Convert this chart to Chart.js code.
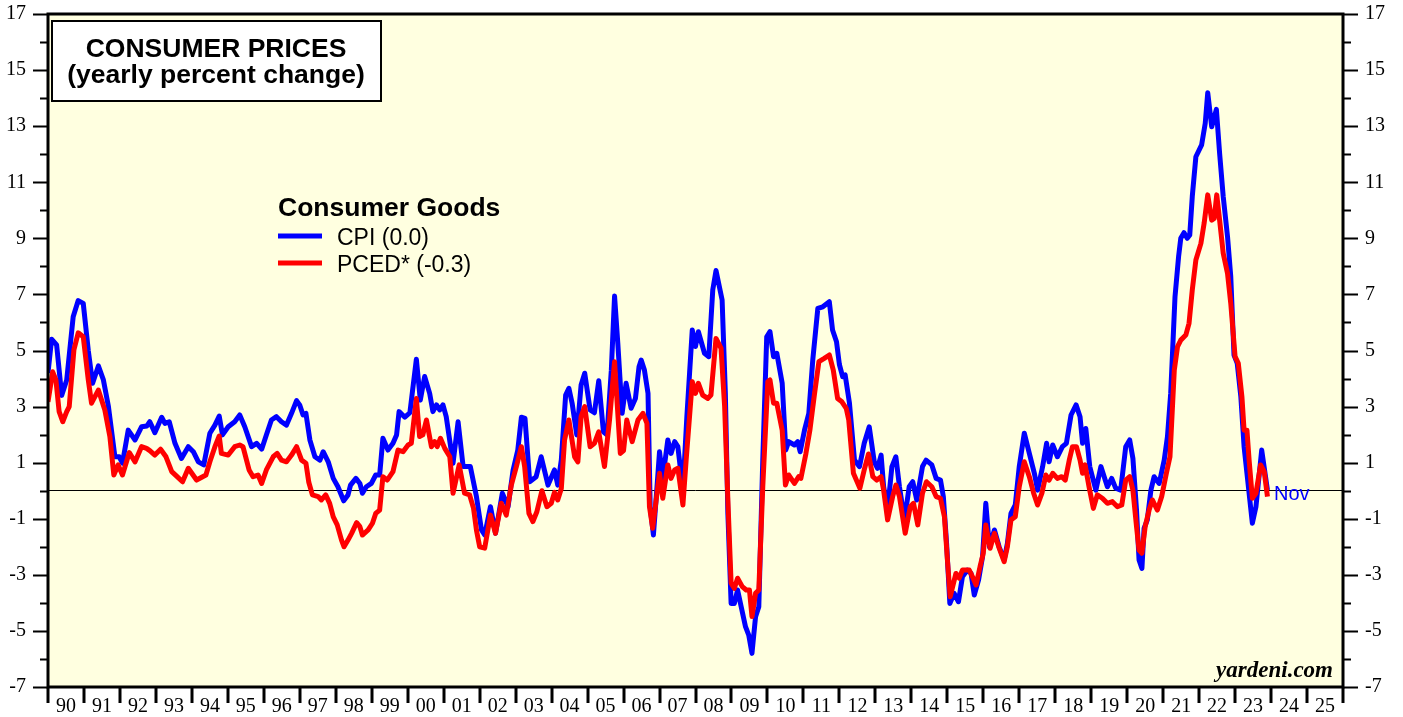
<!DOCTYPE html>
<html>
<head>
<meta charset="utf-8">
<title>Consumer Prices</title>
<script src="https://cdn.jsdelivr.net/npm/chart.js@4.4.1/dist/chart.umd.min.js"></script>
<style>
    body { margin: 0; background: #ffffff; }
    #chartBox { width: 1403px; height: 717px; }
</style>
</head>
<body>
<div id="chartBox"><canvas id="pricesChart" width="1403" height="717"></canvas></div>
<script>
// CPI consumer goods, yearly % change (decimal year, value)
const cpiYears = [
    1990.00, 1990.10, 1990.24, 1990.38, 1990.52, 1990.70, 1990.84, 1990.98, 1991.12, 1991.24,
    1991.40, 1991.54, 1991.68, 1991.86, 1991.98, 1992.07, 1992.23, 1992.42, 1992.60, 1992.75,
    1992.83, 1992.97, 1993.16, 1993.25, 1993.37, 1993.53, 1993.71, 1993.90, 1994.04, 1994.18,
    1994.33, 1994.50, 1994.64, 1994.76, 1994.85, 1995.01, 1995.19, 1995.33, 1995.47, 1995.66,
    1995.80, 1995.94, 1996.07, 1996.21, 1996.35, 1996.49, 1996.63, 1996.77, 1996.91, 1997.00,
    1997.09, 1997.17, 1997.28, 1997.42, 1997.56, 1997.65, 1997.79, 1997.93, 1998.06, 1998.22,
    1998.34, 1998.41, 1998.56, 1998.67, 1998.74, 1998.85, 1998.99, 1999.11, 1999.22, 1999.31,
    1999.45, 1999.59, 1999.69, 1999.76, 1999.92, 2000.06, 2000.24, 2000.35, 2000.47, 2000.61,
    2000.70, 2000.80, 2000.89, 2000.98, 2001.07, 2001.26, 2001.40, 2001.54, 2001.74, 2001.91,
    2002.05, 2002.14, 2002.30, 2002.44, 2002.63, 2002.79, 2002.93, 2003.06, 2003.16, 2003.26,
    2003.39, 2003.57, 2003.71, 2003.90, 2004.08, 2004.17, 2004.27, 2004.39, 2004.48, 2004.57,
    2004.70, 2004.82, 2004.92, 2005.07, 2005.19, 2005.31, 2005.44, 2005.54, 2005.66, 2005.75,
    2005.84, 2005.96, 2006.07, 2006.21, 2006.33, 2006.43, 2006.49, 2006.58, 2006.68, 2006.74,
    2006.83, 2006.93, 2007.00, 2007.09, 2007.23, 2007.32, 2007.42, 2007.51, 2007.65, 2007.76,
    2007.91, 2008.00, 2008.08, 2008.25, 2008.37, 2008.48, 2008.57, 2008.74, 2008.83, 2008.90,
    2008.99, 2009.08, 2009.17, 2009.27, 2009.39, 2009.48, 2009.57, 2009.67, 2009.76, 2009.87,
    2009.98, 2010.07, 2010.17, 2010.26, 2010.41, 2010.51, 2010.59, 2010.75, 2010.84, 2010.91,
    2011.03, 2011.15, 2011.26, 2011.40, 2011.54, 2011.72, 2011.81, 2011.92, 2012.00, 2012.09,
    2012.16, 2012.28, 2012.42, 2012.56, 2012.69, 2012.83, 2012.97, 2013.06, 2013.16, 2013.23,
    2013.34, 2013.46, 2013.57, 2013.67, 2013.81, 2013.94, 2014.04, 2014.15, 2014.31, 2014.41,
    2014.57, 2014.69, 2014.81, 2014.89, 2014.98, 2015.07, 2015.19, 2015.31, 2015.42, 2015.56,
    2015.66, 2015.75, 2015.87, 2015.98, 2016.07, 2016.17, 2016.31, 2016.44, 2016.58, 2016.67,
    2016.77, 2016.89, 2017.00, 2017.14, 2017.28, 2017.42, 2017.51, 2017.65, 2017.76, 2017.83,
    2017.93, 2018.06, 2018.20, 2018.31, 2018.44, 2018.58, 2018.69, 2018.76, 2018.85, 2018.96,
    2019.13, 2019.27, 2019.45, 2019.57, 2019.68, 2019.82, 2019.96, 2020.07, 2020.16, 2020.26,
    2020.33, 2020.41, 2020.47, 2020.56, 2020.66, 2020.75, 2020.89, 2021.03, 2021.12, 2021.21,
    2021.26, 2021.33, 2021.43, 2021.49, 2021.58, 2021.67, 2021.74, 2021.81, 2021.91, 2022.07,
    2022.17, 2022.24, 2022.35, 2022.48, 2022.57, 2022.67, 2022.79, 2022.88, 2022.97, 2023.06,
    2023.16, 2023.25, 2023.48, 2023.58, 2023.74, 2023.90
];
const cpiValues = [
    4.20, 5.40, 5.20, 3.40, 3.95, 6.20, 6.78, 6.68, 5.00, 3.83,
    4.45, 3.95, 3.00, 1.21, 1.21, 0.98, 2.16, 1.81, 2.28, 2.31,
    2.46, 2.07, 2.62, 2.40, 2.46, 1.69, 1.15, 1.57, 1.39, 1.03,
    0.92, 2.05, 2.34, 2.66, 1.99, 2.28, 2.46, 2.70, 2.28, 1.57,
    1.69, 1.48, 1.99, 2.52, 2.64, 2.46, 2.34, 2.76, 3.21, 3.05,
    2.70, 2.76, 1.81, 1.21, 1.09, 1.39, 1.03, 0.44, 0.14, -0.36,
    -0.15, 0.20, 0.44, 0.26, -0.09, 0.14, 0.26, 0.56, 0.56, 1.87,
    1.45, 1.69, 1.99, 2.82, 2.62, 2.78, 4.69, 3.23, 4.07, 3.47,
    2.82, 3.06, 2.88, 3.06, 2.64, 0.98, 2.46, 0.86, 0.86, -0.21,
    -1.40, -1.58, -0.57, -1.52, -0.09, -0.57, 0.74, 1.45, 2.62, 2.58,
    0.32, 0.50, 1.21, 0.20, 0.74, 0.20, 1.10, 3.41, 3.65, 3.12,
    1.99, 3.77, 4.19, 2.88, 2.78, 3.92, 2.10, 1.99, 4.30, 6.94,
    5.26, 2.76, 3.83, 2.94, 3.29, 4.42, 4.66, 4.30, 3.47, -0.57,
    -1.58, 0.14, 1.39, 0.44, 1.81, 1.33, 1.75, 1.57, 0.02, 2.64,
    5.73, 5.14, 5.67, 4.90, 4.78, 7.16, 7.85, 6.80, 3.47, -0.81,
    -4.02, -4.02, -3.54, -4.14, -4.85, -5.15, -5.80, -4.49, -4.14, 1.09,
    5.49, 5.67, 4.78, 4.90, 3.83, 1.45, 1.75, 1.63, 1.75, 1.39,
    2.16, 2.76, 4.66, 6.50, 6.56, 6.74, 5.73, 5.31, 4.50, 4.07,
    4.13, 3.12, 1.09, 0.86, 1.69, 2.28, 1.03, 0.80, 1.27, 0.14,
    -0.69, 0.86, 1.21, 0.14, -1.04, 0.14, 0.32, -0.33, 0.86, 1.09,
    0.92, 0.44, 0.38, -0.21, -1.88, -4.02, -3.66, -3.96, -3.07, -2.83,
    -2.95, -3.72, -3.18, -2.35, -0.45, -2.00, -1.40, -2.00, -2.47, -1.88,
    -0.81, -0.51, 0.86, 2.05, 1.33, 0.62, 0.02, 0.86, 1.69, 1.03,
    1.63, 1.21, 1.57, 1.69, 2.70, 3.06, 2.64, 1.69, 2.22, 0.86,
    0.02, 0.86, 0.14, 0.44, 0.09, 0.02, 1.57, 1.81, 1.15, -0.69,
    -2.47, -2.77, -1.34, -1.04, 0.02, 0.50, 0.26, 1.09, 1.93, 3.47,
    4.90, 6.92, 8.35, 9.00, 9.20, 9.00, 9.12, 10.49, 11.91, 12.33,
    13.10, 14.19, 12.98, 13.60, 12.03, 10.49, 9.06, 7.63, 4.84, 4.54,
    3.35, 1.57, -1.16, -0.57, 1.45, 0.02
];

// PCED consumer goods, yearly % change
const pcedYears = [
    1990.00, 1990.13, 1990.22, 1990.31, 1990.41, 1990.52, 1990.59, 1990.72, 1990.84, 1990.98,
    1991.12, 1991.21, 1991.40, 1991.58, 1991.72, 1991.83, 1991.95, 1992.07, 1992.26, 1992.42,
    1992.60, 1992.74, 1992.83, 1992.97, 1993.13, 1993.28, 1993.44, 1993.59, 1993.74, 1993.90,
    1994.13, 1994.30, 1994.39, 1994.50, 1994.64, 1994.76, 1994.82, 1995.01, 1995.19, 1995.33,
    1995.42, 1995.59, 1995.70, 1995.84, 1995.94, 1996.07, 1996.26, 1996.37, 1996.49, 1996.63,
    1996.77, 1996.91, 1997.05, 1997.17, 1997.25, 1997.35, 1997.51, 1997.60, 1997.72, 1997.83,
    1997.93, 1998.04, 1998.16, 1998.23, 1998.34, 1998.44, 1998.58, 1998.67, 1998.74, 1998.90,
    1999.02, 1999.11, 1999.22, 1999.31, 1999.43, 1999.59, 1999.73, 1999.87, 2000.01, 2000.10,
    2000.24, 2000.33, 2000.42, 2000.52, 2000.66, 2000.75, 2000.82, 2000.91, 2001.03, 2001.17,
    2001.26, 2001.43, 2001.58, 2001.72, 2001.83, 2001.91, 2002.00, 2002.14, 2002.30, 2002.44,
    2002.60, 2002.74, 2002.88, 2003.02, 2003.16, 2003.25, 2003.37, 2003.48, 2003.59, 2003.73,
    2003.87, 2003.99, 2004.08, 2004.17, 2004.27, 2004.36, 2004.48, 2004.64, 2004.73, 2004.82,
    2004.92, 2005.07, 2005.19, 2005.31, 2005.47, 2005.61, 2005.75, 2005.91, 2006.00, 2006.09,
    2006.24, 2006.40, 2006.54, 2006.65, 2006.72, 2006.81, 2006.93, 2007.00, 2007.09, 2007.23,
    2007.32, 2007.42, 2007.51, 2007.65, 2007.74, 2007.91, 2008.00, 2008.08, 2008.20, 2008.34,
    2008.43, 2008.57, 2008.71, 2008.81, 2008.90, 2008.99, 2009.08, 2009.17, 2009.30, 2009.41,
    2009.50, 2009.57, 2009.67, 2009.76, 2009.87, 2010.01, 2010.07, 2010.17, 2010.26, 2010.41,
    2010.50, 2010.59, 2010.75, 2010.87, 2010.93, 2011.07, 2011.18, 2011.31, 2011.43, 2011.58,
    2011.72, 2011.83, 2011.95, 2012.07, 2012.19, 2012.26, 2012.39, 2012.57, 2012.69, 2012.81,
    2012.93, 2013.04, 2013.16, 2013.23, 2013.34, 2013.48, 2013.57, 2013.67, 2013.83, 2013.97,
    2014.06, 2014.18, 2014.31, 2014.42, 2014.57, 2014.69, 2014.81, 2014.92, 2015.01, 2015.08,
    2015.24, 2015.33, 2015.42, 2015.61, 2015.70, 2015.80, 2015.91, 2016.00, 2016.07, 2016.19,
    2016.31, 2016.43, 2016.58, 2016.67, 2016.77, 2016.89, 2017.00, 2017.14, 2017.28, 2017.40,
    2017.51, 2017.63, 2017.74, 2017.83, 2017.93, 2018.06, 2018.18, 2018.28, 2018.39, 2018.48,
    2018.59, 2018.69, 2018.76, 2018.83, 2018.94, 2019.06, 2019.17, 2019.31, 2019.45, 2019.59,
    2019.73, 2019.85, 2019.96, 2020.07, 2020.16, 2020.26, 2020.33, 2020.41, 2020.50, 2020.61,
    2020.70, 2020.84, 2020.96, 2021.09, 2021.19, 2021.31, 2021.40, 2021.49, 2021.63, 2021.72,
    2021.81, 2021.91, 2022.05, 2022.14, 2022.24, 2022.35, 2022.42, 2022.49, 2022.57, 2022.67,
    2022.79, 2022.88, 2023.00, 2023.09, 2023.19, 2023.25, 2023.33, 2023.39, 2023.48, 2023.58,
    2023.71, 2023.81, 2023.90
];
const pcedValues = [
    3.17, 4.24, 3.95, 2.82, 2.46, 2.82, 3.00, 5.02, 5.63, 5.49,
    3.95, 3.12, 3.59, 2.88, 1.93, 0.56, 0.92, 0.56, 1.36, 1.03,
    1.57, 1.51, 1.43, 1.27, 1.48, 1.21, 0.68, 0.50, 0.32, 0.80,
    0.38, 0.50, 0.56, 1.03, 1.57, 1.95, 1.33, 1.27, 1.57, 1.63,
    1.57, 0.74, 0.50, 0.56, 0.26, 0.74, 1.21, 1.33, 1.09, 1.03,
    1.27, 1.57, 1.09, 0.98, 0.30, -0.15, -0.21, -0.33, -0.15, -0.45,
    -0.93, -1.22, -1.76, -2.00, -1.76, -1.52, -1.14, -1.28, -1.58, -1.40,
    -1.16, -0.81, -0.69, 0.50, 0.38, 0.68, 1.45, 1.39, 1.63, 1.69,
    3.29, 1.93, 1.99, 2.52, 1.57, 1.75, 1.57, 1.87, 1.51, 1.21,
    -0.09, 0.92, -0.09, -0.15, -0.63, -1.40, -2.00, -2.05, -0.87, -1.52,
    -0.45, -0.87, 0.20, 0.86, 1.57, 0.86, -0.81, -1.10, -0.75, 0.00,
    -0.57, -0.45, -0.06, -0.33, 0.08, 1.81, 2.52, 1.21, 1.03, 2.64,
    3.00, 1.57, 1.69, 2.10, 0.86, 2.52, 4.60, 1.33, 1.43, 2.52,
    1.75, 2.52, 2.76, 2.40, -0.57, -1.34, -0.09, 0.62, -0.27, 0.92,
    0.44, 0.74, 0.80, -0.51, 1.09, 3.89, 3.47, 3.83, 3.41, 3.29,
    3.41, 5.43, 5.08, 3.00, -0.33, -3.30, -3.48, -3.12, -3.42, -3.54,
    -3.54, -4.49, -3.66, -3.54, 0.14, 3.89, 3.95, 3.12, 3.12, 2.16,
    0.20, 0.56, 0.26, 0.50, 0.44, 1.33, 2.16, 3.47, 4.60, 4.72,
    4.84, 4.30, 3.29, 3.17, 2.94, 2.52, 0.62, 0.09, 0.74, 1.31,
    0.50, 0.38, 0.50, 0.02, -1.04, -0.21, 0.20, -0.21, -1.52, -0.57,
    -0.45, -1.22, -0.09, 0.32, 0.14, -0.21, -0.27, -0.93, -2.59, -3.78,
    -2.95, -3.12, -2.83, -2.83, -3.07, -3.36, -2.71, -2.23, -1.22, -2.05,
    -1.52, -2.00, -2.53, -2.00, -1.04, -0.93, 0.14, 1.03, 0.50, -0.09,
    -0.51, -0.09, 0.56, 0.38, 0.62, 0.44, 0.50, 0.38, 1.09, 1.57,
    1.57, 1.09, 0.62, 0.92, 0.14, -0.63, -0.15, -0.27, -0.45, -0.39,
    -0.57, -0.51, 0.38, 0.50, 0.02, -1.28, -2.12, -2.23, -1.28, -0.69,
    -0.33, -0.69, -0.21, 0.62, 1.21, 4.30, 5.14, 5.37, 5.55, 5.97,
    7.16, 8.23, 8.82, 9.54, 10.55, 9.65, 9.71, 10.55, 9.65, 8.47,
    7.75, 6.68, 4.78, 4.54, 3.35, 2.16, 2.16, 1.09, -0.27, -0.09,
    0.92, 0.68, -0.21
];

const yearLabels = ['90', '91', '92', '93', '94', '95', '96', '97', '98', '99', '00', '01',
    '02', '03', '04', '05', '06', '07', '08', '09', '10', '11', '12', '13', '14', '15',
    '16', '17', '18', '19', '20', '21', '22', '23', '24', '25'];
const firstYear = 1990;
const yMin = -7;
const yMax = 17;

const tickFont = { family: 'Liberation Serif', size: 20 };

function toPoints(xs, ys) {
    return xs.map((x, i) => ({ x: x, y: ys[i] }));
}

// keep the plot box where the original has it: no extra room for half labels
function fixVertical(width) {
    return scale => {
        scale.width = width;
        scale.paddingTop = 0;
        scale.paddingBottom = 0;
    };
}

// background, frame, tick marks and the text boxes
const decorPlugin = {
    id: 'decor',
    beforeDraw(chart) {
        const { ctx, chartArea: a } = chart;
        ctx.save();
        ctx.fillStyle = '#ffffe0';
        ctx.fillRect(a.left, a.top, a.right - a.left, a.bottom - a.top);
        ctx.restore();
    },
    afterDraw(chart) {
        const { ctx, chartArea: a } = chart;
        const xs = chart.scales.x;
        const ys = chart.scales.y;
        ctx.save();
        ctx.strokeStyle = '#000';

        // y tick marks, long on labelled (odd) values
        ctx.lineWidth = 2;
        for (let v = yMin; v <= yMax; v++) {
            const py = Math.round(ys.getPixelForValue(v)) + 0.5;
            const len = Math.abs(v) % 2 === 1 ? 15 : 8;
            ctx.beginPath();
            ctx.moveTo(a.left - len, py);
            ctx.lineTo(a.left, py);
            ctx.moveTo(a.right, py);
            ctx.lineTo(a.right + len, py);
            ctx.stroke();
        }
        // year ticks below the axis
        ctx.lineWidth = 3;
        for (let i = 0; i <= yearLabels.length; i++) {
            const px = Math.round(xs.getPixelForValue(firstYear + i));
            ctx.beginPath();
            ctx.moveTo(px, a.bottom);
            ctx.lineTo(px, a.bottom + 16);
            ctx.stroke();
        }

        ctx.lineWidth = 3;
        ctx.strokeRect(a.left, a.top, a.right - a.left, a.bottom - a.top);

        // title box
        ctx.fillStyle = '#fff';
        ctx.fillRect(52, 21, 329, 80);
        ctx.lineWidth = 2;
        ctx.strokeRect(52, 21, 329, 80);
        ctx.fillStyle = '#000';
        ctx.textAlign = 'center';
        ctx.textBaseline = 'alphabetic';
        ctx.font = 'bold 26.5px "Liberation Sans", Arial, sans-serif';
        ctx.fillText('CONSUMER PRICES', 216, 57);
        ctx.fillText('(yearly percent change)', 216, 83);

        // legend
        ctx.textAlign = 'left';
        ctx.font = 'bold 26.5px "Liberation Sans", Arial, sans-serif';
        ctx.fillText('Consumer Goods', 278, 216);
        ctx.font = '23px "Liberation Sans", Arial, sans-serif';
        const order = [1, 0];
        order.forEach((di, row) => {
            const ds = chart.data.datasets[di];
            const ly = 236 + row * 27;
            ctx.strokeStyle = ds.borderColor;
            ctx.lineWidth = 5;
            ctx.beginPath();
            ctx.moveTo(278, ly);
            ctx.lineTo(322, ly);
            ctx.stroke();
            ctx.fillStyle = '#000';
            ctx.fillText(ds.label, 337, ly + 9);
        });

        // last month marker
        ctx.fillStyle = '#0000ff';
        ctx.font = '20px "Liberation Sans", Arial, sans-serif';
        ctx.fillText('Nov', xs.getPixelForValue(2024.08), ys.getPixelForValue(0) + 9);

        ctx.fillStyle = '#000';
        ctx.textAlign = 'right';
        ctx.font = 'bold italic 23px "Liberation Serif", serif';
        ctx.fillText('yardeni.com', 1333, 677);
        ctx.restore();
    }
};

document.addEventListener('DOMContentLoaded', function() {
    const ctx = document.getElementById('pricesChart').getContext('2d');
    new Chart(ctx, {
        type: 'line',
        data: {
            datasets: [{
                label: 'PCED* (-0.3)',
                data: toPoints(pcedYears, pcedValues),
                borderColor: '#ff0000',
                borderWidth: 5,
                pointRadius: 0,
                tension: 0,
                borderJoinStyle: 'round'
            }, {
                label: 'CPI (0.0)',
                data: toPoints(cpiYears, cpiValues),
                borderColor: '#0000ff',
                borderWidth: 5,
                pointRadius: 0,
                tension: 0,
                borderJoinStyle: 'round'
            }]
        },
        options: {
            responsive: false,
            animation: false,
            devicePixelRatio: 1,
            layout: { padding: { top: 14, left: 0, right: 0, bottom: 0 } },
            plugins: {
                legend: { display: false },
                tooltip: { enabled: false }
            },
            scales: {
                x: {
                    type: 'linear',
                    min: firstYear,
                    max: firstYear + yearLabels.length,
                    afterBuildTicks: scale => {
                        scale.ticks = yearLabels.map((t, i) => ({ value: firstYear + i + 0.5 }));
                    },
                    afterFit: scale => {
                        scale.height = 30;
                        scale.paddingLeft = 0;
                        scale.paddingRight = 0;
                    },
                    grid: { display: false, drawTicks: false },
                    border: { display: false },
                    ticks: {
                        autoSkip: false,
                        maxRotation: 0,
                        padding: 8,
                        color: '#000',
                        font: tickFont,
                        callback: (v, i) => yearLabels[i]
                    }
                },
                y: {
                    position: 'left',
                    min: yMin,
                    max: yMax,
                    afterFit: fixVertical(48),
                    grid: {
                        drawTicks: false,
                        lineWidth: 1,
                        color: c => c.tick && c.tick.value === 0 ? '#000' : 'rgba(0,0,0,0)'
                    },
                    border: { display: false },
                    ticks: {
                        stepSize: 1,
                        autoSkip: false,
                        padding: 22,
                        color: '#000',
                        font: tickFont,
                        callback: v => (Math.abs(v) % 2 === 1 ? String(v) : '')
                    }
                },
                y2: {
                    position: 'right',
                    min: yMin,
                    max: yMax,
                    afterFit: fixVertical(60),
                    grid: { display: false, drawTicks: false },
                    border: { display: false },
                    ticks: {
                        stepSize: 1,
                        autoSkip: false,
                        padding: 22,
                        color: '#000',
                        font: tickFont,
                        callback: v => (Math.abs(v) % 2 === 1 ? String(v) : '')
                    }
                }
            }
        },
        plugins: [decorPlugin]
    });
});
</script>
</body>
</html>
